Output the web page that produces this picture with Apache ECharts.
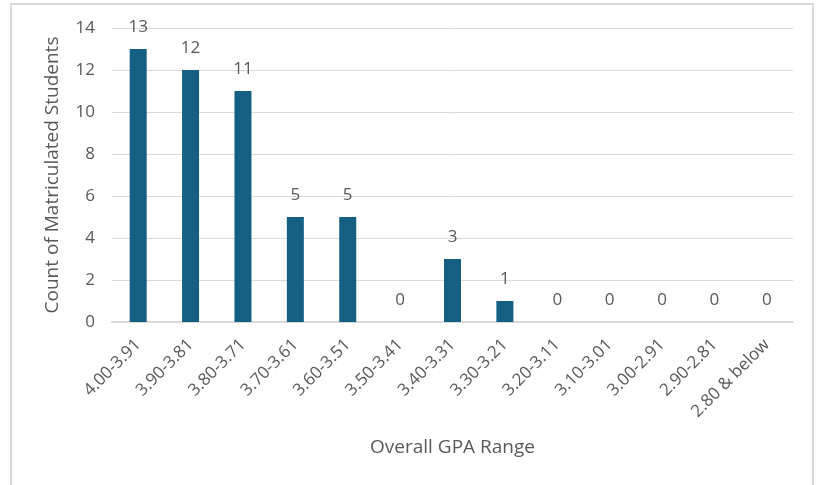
<!DOCTYPE html>
<html>
<head>
<meta charset="utf-8">
<script src="https://cdn.jsdelivr.net/npm/echarts@6/dist/echarts.min.js"></script>
<style>
    html, body { margin: 0; padding: 0; background: #fff; }
    #wrap { position: relative; width: 823px; height: 485px; overflow: hidden; }
    #frame { position: absolute; left: 10px; top: 3px; width: 804px; height: 500px;
             border: 2px solid #d9d9d9; box-sizing: border-box; }
    #chart { position: absolute; left: 0; top: 0; width: 823px; height: 485px; }
</style>
</head>
<body>
<div id="wrap">
    <div id="frame"></div>
    <div id="chart"></div>
</div>
<script>
    // GPA ranges and matriculated student counts
    const gpaRanges = ['4.00-3.91', '3.90-3.81', '3.80-3.71', '3.70-3.61', '3.60-3.51', '3.50-3.41',
        '3.40-3.31', '3.30-3.21', '3.20-3.11', '3.10-3.01', '3.00-2.91', '2.90-2.81', '2.80 & below'];
    const studentCounts = [13, 12, 11, 5, 5, 0, 3, 1, 0, 0, 0, 0, 0];

    const font = '"Open Sans", sans-serif';
    const chart = echarts.init(document.getElementById('chart'));
    chart.setOption({
        animation: false,
        grid: {left: 112, right: 30, top: 28, bottom: 163},
        xAxis: {
            type: 'category',
            data: gpaRanges,
            name: 'Overall GPA Range',
            nameLocation: 'middle',
            nameGap: 116,
            nameTextStyle: {color: '#595959', fontSize: 19, fontFamily: font},
            axisLine: {lineStyle: {color: '#d9d9d9', width: 2}},
            axisTick: {show: false},
            axisLabel: {rotate: 45, margin: 20, color: '#595959', fontSize: 17, fontFamily: font, interval: 0}
        },
        yAxis: {
            type: 'value',
            min: 0, max: 14, interval: 2,
            name: 'Count of Matriculated Students',
            nameLocation: 'middle',
            nameGap: 50,
            nameTextStyle: {color: '#595959', fontSize: 19, fontFamily: font},
            axisLine: {show: false},
            axisTick: {show: false},
            axisLabel: {color: '#595959', fontSize: 17, fontFamily: font, margin: 17},
            splitLine: {lineStyle: {color: '#d9d9d9', width: 1}}
        },
        series: [{
            type: 'bar',
            data: studentCounts,
            barWidth: 17,
            itemStyle: {color: '#156082'},
            label: {
                show: true, position: 'top', distance: 13,
                color: '#595959', fontSize: 17, fontFamily: font
            }
        }]
    });
</script>
</body>
</html>
